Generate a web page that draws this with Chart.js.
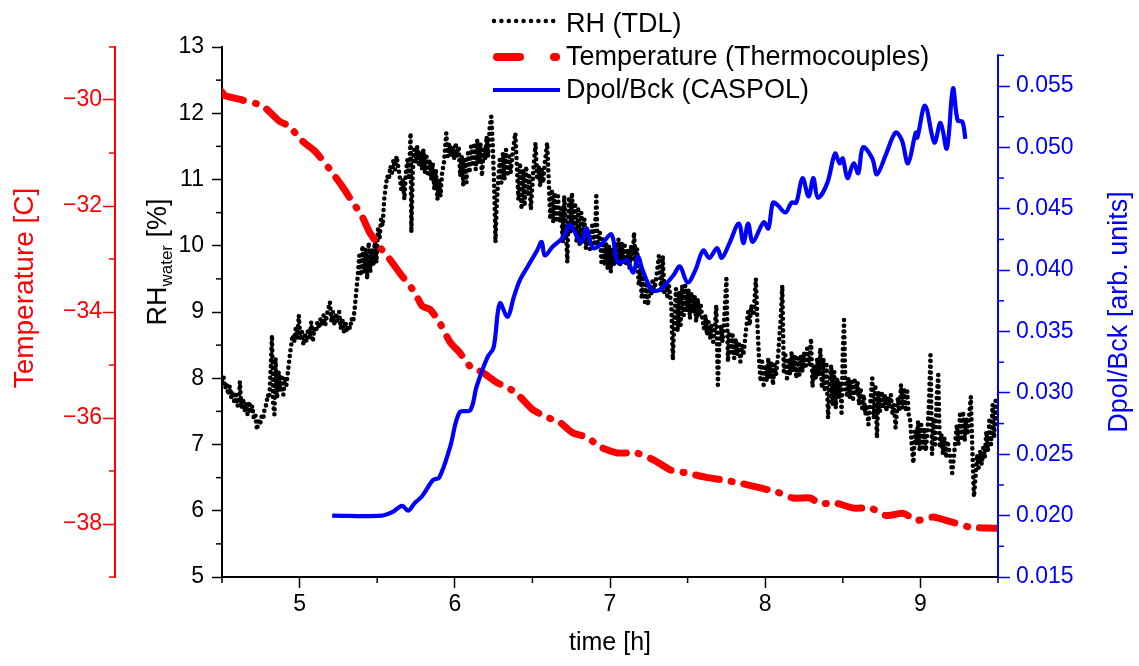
<!DOCTYPE html>
<html><head><meta charset="utf-8">
<script src="https://cdn.jsdelivr.net/npm/chart.js@4.4.0/dist/chart.umd.min.js"></script>
<style>
html,body{margin:0;padding:0;background:#fff;}
#wrap{position:relative;width:1139px;height:666px;overflow:hidden;background:#fff;}
#c{position:absolute;left:0;top:0;}
#legsvg{position:absolute;left:0;top:0;}
.leg{position:absolute;left:566px;font-family:"Liberation Sans",Arial,sans-serif;font-size:27px;line-height:27px;color:#000;white-space:nowrap;}
</style></head><body>
<div id="wrap">
<canvas id="c" width="1139" height="666"></canvas>
<svg id="legsvg" width="1139" height="110">
 <line x1="494" y1="21" x2="554" y2="21" stroke="#000" stroke-width="4.5" stroke-linecap="round" stroke-dasharray="0 7.4"/>
 <line x1="497" y1="57" x2="520" y2="57" stroke="#ff0000" stroke-width="8" stroke-linecap="round"/>
 <line x1="554" y1="57" x2="556" y2="57" stroke="#ff0000" stroke-width="8" stroke-linecap="round"/>
 <line x1="493" y1="90" x2="560" y2="90" stroke="#0000ff" stroke-width="4"/>
</svg>
<div class="leg" style="top:10px">RH (TDL)</div>
<div class="leg" style="top:43px">Temperature (Thermocouples)</div>
<div class="leg" style="top:76px">Dpol/Bck (CASPOL)</div>
</div>
<script>
// ---------- data ----------
const rhTime = [
4.500,4.510,4.520,4.530,4.540,4.550,4.560,4.570,4.580,4.590,
4.600,4.610,4.615,4.625,4.635,4.645,4.655,4.665,4.675,4.685,
4.695,4.705,4.715,4.725,4.735,4.745,4.755,4.765,4.775,4.785,
4.795,4.805,4.815,4.822,4.830,4.838,4.845,4.855,4.865,4.875,
4.885,4.895,4.905,4.915,4.925,4.940,4.955,4.965,4.975,4.985,
4.995,5.005,5.015,5.025,5.035,5.045,5.055,5.065,5.075,5.085,
5.095,5.105,5.115,5.125,5.135,5.145,5.155,5.165,5.180,5.195,
5.205,5.215,5.225,5.235,5.245,5.255,5.265,5.275,5.285,5.295,
5.305,5.315,5.325,5.335,5.345,5.355,5.365,5.375,5.385,5.395,
5.405,5.415,5.425,5.435,5.445,5.455,5.465,5.475,5.485,5.495,
5.505,5.515,5.525,5.535,5.545,5.555,5.565,5.575,5.585,5.595,
5.605,5.615,5.625,5.635,5.645,5.655,5.665,5.675,5.685,5.695,
5.705,5.715,5.720,5.728,5.738,5.748,5.758,5.768,5.778,5.788,
5.798,5.808,5.818,5.828,5.838,5.848,5.858,5.868,5.878,5.888,
5.898,5.908,5.918,5.930,5.945,5.955,5.965,5.975,5.985,5.995,
6.005,6.015,6.025,6.035,6.045,6.055,6.065,6.075,6.085,6.095,
6.105,6.115,6.125,6.135,6.145,6.155,6.165,6.175,6.185,6.195,
6.205,6.215,6.225,6.235,6.245,6.255,6.262,6.270,6.280,6.290,
6.300,6.310,6.320,6.330,6.340,6.350,6.360,6.375,6.390,6.400,
6.410,6.420,6.430,6.440,6.450,6.460,6.470,6.480,6.490,6.505,
6.520,6.530,6.540,6.550,6.560,6.570,6.580,6.595,6.605,6.615,
6.625,6.635,6.645,6.655,6.665,6.675,6.685,6.695,6.705,6.715,
6.725,6.735,6.745,6.755,6.765,6.775,6.785,6.795,6.805,6.815,
6.825,6.835,6.845,6.855,6.870,6.885,6.900,6.912,6.920,6.935,
6.945,6.955,6.965,6.975,6.985,6.995,7.005,7.015,7.025,7.035,
7.045,7.055,7.065,7.075,7.085,7.095,7.105,7.115,7.125,7.135,
7.145,7.155,7.165,7.175,7.185,7.195,7.205,7.215,7.225,7.235,
7.245,7.255,7.265,7.275,7.285,7.300,7.315,7.330,7.340,7.350,
7.360,7.370,7.380,7.395,7.405,7.415,7.425,7.435,7.445,7.455,
7.465,7.475,7.485,7.495,7.505,7.515,7.525,7.535,7.545,7.555,
7.565,7.575,7.585,7.595,7.605,7.615,7.625,7.635,7.645,7.655,
7.665,7.675,7.685,7.695,7.705,7.715,7.725,7.735,7.750,7.760,
7.770,7.780,7.790,7.800,7.810,7.820,7.830,7.840,7.850,7.860,
7.875,7.890,7.900,7.910,7.925,7.940,7.950,7.960,7.970,7.980,
7.990,8.000,8.010,8.020,8.030,8.040,8.050,8.060,8.070,8.085,
8.100,8.110,8.120,8.130,8.140,8.150,8.160,8.170,8.180,8.190,
8.200,8.210,8.220,8.230,8.240,8.250,8.260,8.270,8.285,8.295,
8.305,8.315,8.325,8.335,8.345,8.355,8.365,8.375,8.385,8.395,
8.405,8.415,8.425,8.435,8.445,8.455,8.465,8.475,8.485,8.492,
8.500,8.508,8.516,8.525,8.535,8.545,8.555,8.565,8.575,8.585,
8.595,8.605,8.615,8.625,8.635,8.645,8.655,8.665,8.680,8.690,
8.700,8.710,8.720,8.730,8.740,8.750,8.760,8.770,8.780,8.790,
8.800,8.810,8.820,8.830,8.840,8.855,8.865,8.875,8.885,8.895,
8.905,8.915,8.925,8.935,8.945,8.955,8.965,8.975,8.985,8.995,
9.005,9.015,9.025,9.035,9.045,9.055,9.065,9.075,9.085,9.095,
9.105,9.115,9.125,9.135,9.145,9.155,9.165,9.175,9.190,9.205,
9.215,9.225,9.235,9.245,9.255,9.265,9.275,9.285,9.295,9.305,
9.315,9.325,9.335,9.345,9.355,9.365,9.375,9.385,9.395,9.405,
9.415,9.425,9.435,9.445,9.455,9.465,9.475,9.485,9.495
];
const rhValue = [
7.95,8.02,7.85,7.92,7.75,7.88,7.70,7.80,7.62,7.75,
7.58,7.68,7.95,7.55,7.70,7.50,7.62,7.45,7.65,7.50,
7.58,7.40,7.45,7.22,7.35,7.30,7.42,7.38,7.55,7.60,
7.75,7.70,8.20,8.65,7.60,7.45,8.30,7.70,8.10,7.80,
8.05,7.75,8.00,7.90,8.10,8.40,8.65,8.55,8.75,8.60,
8.95,8.60,8.70,8.50,8.65,8.55,8.75,8.60,8.85,8.55,
8.75,8.70,8.85,8.75,8.90,8.80,8.95,8.80,9.00,9.15,
8.85,9.00,8.80,8.95,8.85,9.00,8.75,8.90,8.70,8.85,
8.70,8.80,8.75,8.90,8.85,9.05,9.30,9.55,9.85,9.55,
10.00,9.60,9.95,9.50,10.05,9.60,9.95,9.70,10.10,9.75,
10.25,10.10,10.40,10.30,10.70,10.90,11.05,11.00,11.20,11.10,
11.30,11.15,11.35,11.20,11.05,10.85,11.00,10.70,11.10,11.30,
11.00,11.70,10.20,11.05,11.45,11.25,11.50,11.20,11.40,11.15,
11.45,11.10,11.35,11.05,11.30,11.00,11.25,10.85,11.15,10.70,
11.00,10.75,11.10,11.25,11.70,11.35,11.55,11.35,11.50,11.30,
11.55,11.35,11.50,11.05,11.35,10.90,11.30,10.95,11.40,11.10,
11.50,11.20,11.55,11.15,11.60,11.25,11.55,11.05,11.45,11.30,
11.65,11.35,11.80,11.95,11.50,10.80,10.05,10.60,11.00,11.30,
10.95,11.40,11.00,11.45,11.05,11.35,11.10,11.45,11.70,11.20,
10.70,11.25,10.55,11.15,10.60,11.20,10.75,11.05,10.55,11.10,
11.55,11.00,11.20,10.90,11.15,10.95,11.25,11.55,11.00,10.40,
10.85,10.35,10.80,10.40,10.75,10.35,10.60,10.05,10.75,10.30,
9.75,10.70,10.20,10.80,10.25,10.65,10.05,10.55,10.00,10.50,
10.10,10.40,9.95,10.20,9.95,10.30,10.00,10.75,10.00,10.20,
9.75,10.10,9.70,10.05,9.65,10.00,9.60,9.95,9.70,10.05,
9.75,10.10,9.70,10.05,9.75,10.00,9.70,9.95,9.65,10.00,
9.80,10.20,9.75,9.95,9.40,9.65,9.20,9.55,9.15,9.45,
9.10,9.40,9.25,9.50,9.30,9.55,9.85,9.30,9.85,9.30,
9.45,9.20,9.40,9.10,8.28,8.90,9.35,8.70,9.30,8.80,
9.40,8.95,9.40,9.00,9.35,8.90,9.30,9.00,9.25,8.85,
9.20,8.95,9.10,8.90,8.75,8.95,8.65,8.85,8.60,8.80,
8.55,8.75,9.10,7.90,8.55,8.80,8.55,8.85,9.50,8.25,
8.70,8.35,8.65,8.30,8.60,8.35,8.55,8.25,8.50,8.35,
8.70,9.00,8.80,9.10,8.95,9.50,8.80,8.30,7.95,8.25,
7.90,8.20,7.95,8.30,8.00,8.25,7.90,8.20,8.05,8.40,
8.90,9.40,8.10,8.35,8.00,8.30,8.05,8.40,8.10,8.35,
8.00,8.30,8.05,8.35,8.10,8.40,8.15,8.45,8.20,8.60,
7.87,8.20,8.00,8.30,8.05,8.45,7.85,8.30,7.80,8.20,
7.40,7.90,8.20,7.60,8.10,7.55,8.00,7.70,7.95,7.48,
8.40,8.88,7.90,7.75,8.00,7.70,7.95,7.65,8.00,7.75,
7.95,7.60,7.85,7.55,7.75,7.45,7.60,7.30,7.70,8.00,
7.40,7.90,7.10,7.80,7.50,7.80,7.55,7.75,7.50,7.70,
7.55,7.75,7.45,7.60,7.25,7.70,7.50,7.90,7.55,7.85,
7.50,7.80,7.45,7.35,6.95,6.72,7.20,7.00,7.35,6.90,
7.30,6.95,7.25,6.90,7.20,7.60,8.35,6.85,7.40,7.00,
7.70,8.05,6.95,7.15,6.85,7.10,6.80,7.05,6.85,6.57,
6.80,7.05,7.30,7.00,7.45,7.10,7.50,7.05,7.40,7.15,
7.45,7.72,6.90,6.21,6.50,6.85,6.65,6.90,6.70,6.95,
6.80,7.20,6.90,7.40,7.00,7.60,7.10,7.70,7.25
];
const tempTime = [4.50,4.52,4.63,4.76,4.87,4.93,5.02,5.10,5.19,5.27,
5.34,5.40,5.45,5.51,5.58,5.66,5.74,5.79,5.84,5.90,
5.97,6.03,6.10,6.18,6.27,6.36,6.42,6.50,6.59,6.68,
6.76,6.85,6.94,7.05,7.17,7.28,7.39,7.50,7.62,7.73,
7.84,7.97,8.08,8.18,8.29,8.35,8.46,8.57,8.68,8.78,
8.89,8.98,9.08,9.21,9.32,9.47,9.50];
const tempValue = [-29.85,-29.92,-30.00,-30.11,-30.40,-30.49,-30.78,-30.97,-31.29,-31.61,
-31.92,-32.18,-32.49,-32.75,-33.00,-33.32,-33.62,-33.89,-33.95,-34.19,
-34.57,-34.76,-35.03,-35.14,-35.33,-35.46,-35.60,-35.84,-35.98,-36.09,
-36.28,-36.36,-36.55,-36.66,-36.66,-36.79,-36.98,-37.04,-37.12,-37.17,
-37.23,-37.32,-37.40,-37.51,-37.51,-37.61,-37.61,-37.70,-37.70,-37.84,
-37.80,-37.93,-37.87,-37.97,-38.06,-38.08,-38.08];
const dpolTime = [5.21,5.53,5.60,5.66,5.70,5.74,5.79,5.86,5.90,5.97,
6.03,6.10,6.14,6.21,6.25,6.29,6.34,6.38,6.42,6.47,
6.53,6.56,6.58,6.63,6.70,6.74,6.79,6.82,6.85,6.89,
6.95,7.01,7.05,7.11,7.15,7.18,7.21,7.27,7.32,7.37,
7.41,7.45,7.50,7.55,7.60,7.64,7.69,7.72,7.77,7.83,
7.86,7.89,7.92,7.99,8.02,8.05,8.08,8.13,8.17,8.20,
8.24,8.28,8.31,8.34,8.40,8.45,8.48,8.50,8.53,8.57,
8.60,8.63,8.69,8.72,8.78,8.84,8.88,8.92,8.97,8.98,
9.03,9.09,9.13,9.17,9.21,9.24,9.27,9.29];
const dpolValue = [0.0200,0.0200,0.0203,0.0208,0.0204,0.0210,0.0216,0.0229,0.0231,0.0256,
0.0284,0.0286,0.0305,0.0329,0.0337,0.0373,0.0362,0.0378,0.0392,0.0403,
0.0416,0.0423,0.0412,0.0419,0.0427,0.0437,0.0427,0.0423,0.0434,0.0418,
0.0422,0.0429,0.0406,0.0408,0.0398,0.0411,0.0400,0.0384,0.0384,0.0390,
0.0396,0.0403,0.0390,0.0400,0.0416,0.0410,0.0418,0.0410,0.0422,0.0438,
0.0422,0.0438,0.0423,0.0439,0.0434,0.0455,0.0453,0.0447,0.0455,0.0455,
0.0475,0.0460,0.0475,0.0459,0.0471,0.0495,0.0487,0.0491,0.0475,0.0487,
0.0479,0.0500,0.0491,0.0478,0.0495,0.0512,0.0506,0.0487,0.0512,0.0508,
0.0534,0.0504,0.0520,0.0499,0.0548,0.0522,0.0521,0.0507];

// tick labels (major) and minor tick positions
const timeTicks = [5,6,7,8,9];
const timeMinor = [4.5,5.5,6.5,7.5,8.5,9.5];
const rhTicks = [5,6,7,8,9,10,11,12,13];
const rhMinor = [5.5,6.5,7.5,8.5,9.5,10.5,11.5,12.5];
const tempTicks = [-38,-36,-34,-32,-30];
const tempMinor = [-39,-37,-35,-33,-31,-29];
const dpolTicks = [0.015,0.020,0.025,0.030,0.035,0.040,0.045,0.050,0.055];
const dpolMinor = [0.0175,0.0225,0.0275,0.0325,0.0375,0.0425,0.0475,0.0525,0.0575];

[[rhTime,rhValue],[tempTime,tempValue],[dpolTime,dpolValue]].forEach(([a,b],i)=>{
  if (a.length !== b.length) throw new Error('length mismatch in series '+i+': '+a.length+' vs '+b.length);
});

// ---------- chart ----------
const FONT = '"Liberation Sans", Arial, sans-serif';
const RED = '#ff0000', BLUE = '#0000ff', BLACK = '#000000';
const toXY = (xs, ys) => xs.map((x, i) => ({x: x, y: ys[i]}));

function buildTicks(major, minor) {
  return function(scale) {
    const all = major.map(v => ({value: v, isMinor: false}))
      .concat(minor.map(v => ({value: v, isMinor: true})));
    all.sort((a, b) => a.value - b.value);
    scale.ticks = all;
  };
}
function tickLabel(fmt) {
  return function(value, index, ticks) {
    return ticks[index] && ticks[index].isMinor ? '' : fmt(value);
  };
}
function tickCol(col) {
  return (ctx) => (ctx.tick && ctx.tick.isMinor) ? 'rgba(0,0,0,0)' : col;
}

const minorSpec = [
  ['x', timeMinor, BLACK],
  ['yRH', rhMinor, BLACK],
  ['yT', tempMinor, RED],
  ['yD', dpolMinor, BLUE]
];

const extras = {
  id: 'extras',
  afterDraw(chart) {
    const ctx = chart.ctx;
    ctx.save();
    // right axis line, ending at the last minor tick like the original
    const sd = chart.scales.yD;
    ctx.strokeStyle = BLUE; ctx.lineWidth = 2;
    ctx.beginPath();
    ctx.moveTo(sd.left, sd.getPixelForValue(dpolTicks[0]) + 1);
    ctx.lineTo(sd.left, sd.getPixelForValue(dpolMinor[dpolMinor.length - 1]) - 1);
    ctx.stroke();
    // minor ticks
    const L = 6;
    minorSpec.forEach(([id, vals, col]) => {
      const s = chart.scales[id];
      ctx.strokeStyle = col; ctx.lineWidth = 1.5;
      vals.forEach(v => {
        const p = s.getPixelForValue(v);
        ctx.beginPath();
        if (id === 'x') { ctx.moveTo(p, s.top); ctx.lineTo(p, s.top + L); }
        else if (s.position === 'left') { ctx.moveTo(s.right - L, p); ctx.lineTo(s.right, p); }
        else { ctx.moveTo(s.left, p); ctx.lineTo(s.left + L, p); }
        ctx.stroke();
      });
    });
    // titles (rotated, bottom-to-top)
    ctx.textBaseline = 'alphabetic';
    ctx.textAlign = 'left';
    // Temperature
    ctx.save();
    ctx.fillStyle = RED;
    ctx.font = '28px ' + FONT;
    const tTxt = 'Temperature [C]';
    const tw = ctx.measureText(tTxt).width;
    ctx.translate(33, 288); ctx.rotate(-Math.PI / 2);
    ctx.fillText(tTxt, -tw / 2, 0);
    ctx.restore();
    // RH_water [%]
    ctx.save();
    ctx.fillStyle = BLACK;
    const big = '27px ' + FONT, small = '17px ' + FONT;
    ctx.font = big; const w1 = ctx.measureText('RH').width; const w3 = ctx.measureText(' [%]').width;
    ctx.font = small; const w2 = ctx.measureText('water').width;
    const tot = w1 + w2 + w3;
    ctx.translate(166, 262); ctx.rotate(-Math.PI / 2);
    let xx = -tot / 2;
    ctx.font = big; ctx.fillText('RH', xx, 0); xx += w1;
    ctx.font = small; ctx.fillText('water', xx, 6); xx += w2;
    ctx.font = big; ctx.fillText(' [%]', xx, 0);
    ctx.restore();
    // Dpol/Bck
    ctx.save();
    ctx.fillStyle = BLUE;
    ctx.font = '27px ' + FONT;
    const dTxt = 'Dpol/Bck [arb. units]';
    const dw = ctx.measureText(dTxt).width;
    ctx.translate(1127, 312); ctx.rotate(-Math.PI / 2);
    ctx.fillText(dTxt, -dw / 2, 0);
    ctx.restore();
    ctx.restore();
  }
};

new Chart(document.getElementById('c'), {
  type: 'line',
  data: {
    datasets: [
      { label: 'Dpol/Bck (CASPOL)', data: toXY(dpolTime, dpolValue), yAxisID: 'yD',
        borderColor: BLUE, borderWidth: 4.2, tension: 0.35, pointRadius: 0, order: 0, fill: false },
      { label: 'Temperature (Thermocouples)', data: toXY(tempTime, tempValue), yAxisID: 'yT',
        borderColor: RED, borderWidth: 7, borderDash: [24, 12, 1, 12], borderCapStyle: 'round',
        tension: 0.2, pointRadius: 0, order: 1, fill: false },
      { label: 'RH (TDL)', data: toXY(rhTime, rhValue), yAxisID: 'yRH',
        borderColor: BLACK, borderWidth: 4.6, borderDash: [0, 5.8], borderCapStyle: 'round',
        tension: 0, pointRadius: 0, order: 2, fill: false }
    ]
  },
  options: {
    responsive: false,
    animation: false,
    devicePixelRatio: 1,
    layout: { padding: { top: 47, left: 0, right: 0, bottom: 0 } },
    plugins: { legend: { display: false }, tooltip: { enabled: false } },
    scales: {
      x: {
        type: 'linear', position: 'bottom', min: 4.5, max: 9.5,
        afterBuildTicks: buildTicks(timeTicks, timeMinor),
        afterFit: s => { s.height = 89; },
        ticks: { autoSkip: false, maxRotation: 0, color: BLACK, padding: 3,
          font: { family: FONT, size: 23 }, callback: tickLabel(v => String(v)) },
        grid: { drawOnChartArea: false, tickLength: 11, tickWidth: 1.5, tickColor: tickCol(BLACK) },
        border: { color: BLACK, width: 2 },
        title: { display: true, text: 'time [h]', color: BLACK, font: { family: FONT, size: 25 },
          padding: { top: 0, bottom: 8 } }
      },
      yT: {
        type: 'linear', position: 'left', weight: 1, min: -39, max: -29,
        afterBuildTicks: buildTicks(tempTicks, tempMinor),
        afterFit: s => { s.width = 115; },
        ticks: { autoSkip: false, color: RED, padding: 1, font: { family: FONT, size: 23 },
          callback: tickLabel(v => '\u2212' + Math.abs(v)) },
        grid: { drawOnChartArea: false, tickLength: 12, tickWidth: 1.5, tickColor: tickCol(RED) },
        border: { color: RED, width: 2 }
      },
      yRH: {
        type: 'linear', position: 'left', weight: 0, min: 5, max: 13,
        afterBuildTicks: buildTicks(rhTicks, rhMinor),
        afterFit: s => { s.width = 107; },
        ticks: { autoSkip: false, color: BLACK, padding: 8, font: { family: FONT, size: 23 },
          callback: tickLabel(v => String(v)) },
        grid: { drawOnChartArea: false, tickLength: 10, tickWidth: 1.5, tickColor: tickCol(BLACK) },
        border: { color: BLACK, width: 2 }
      },
      yD: {
        type: 'linear', position: 'right', min: 0.015, max: 0.05818,
        afterBuildTicks: buildTicks(dpolTicks, dpolMinor),
        afterFit: s => { s.width = 141; },
        ticks: { autoSkip: false, color: BLUE, padding: 6, font: { family: FONT, size: 23 },
          callback: tickLabel(v => v.toFixed(3)) },
        grid: { drawOnChartArea: false, tickLength: 12, tickWidth: 1.5, tickColor: tickCol(BLUE) },
        border: { display: false }
      }
    }
  },
  plugins: [extras]
});
</script>
</body></html>
